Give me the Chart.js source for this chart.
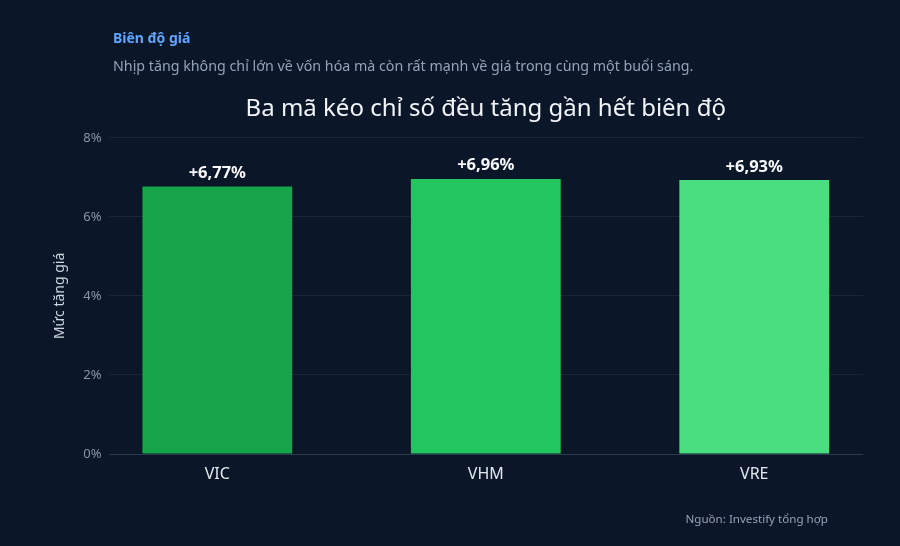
<!DOCTYPE html>
<html lang="vi">
<head>
<meta charset="utf-8">
<script src="https://cdn.jsdelivr.net/npm/chart.js@4.4.1/dist/chart.umd.min.js"></script>
<style>
  html, body { margin: 0; padding: 0; background: #0b1628; }
  #wrap { position: relative; width: 900px; height: 546px; font-family: 'Noto Sans', sans-serif; }
  #chart { position: absolute; left: 0; top: 0; }
  .kicker { position: absolute; left: 113px; top: 28px; font-size: 14px; font-weight: 700; color: #60a5fa; }
  .lead { position: absolute; left: 113px; top: 56px; font-size: 14.25px; color: #94a3b8; }
  .source { position: absolute; right: 72px; top: 511px; font-size: 11.6px; color: #94a3b8; }
</style>
</head>
<body>
<div id="wrap">
  <canvas id="chart" width="900" height="546"></canvas>
  <div class="kicker">Biên độ giá</div>
  <div class="lead">Nhịp tăng không chỉ lớn về vốn hóa mà còn rất mạnh về giá trong cùng một buổi sáng.</div>
  <div class="source">Nguồn: Investify tổng hợp</div>
</div>
<script>
const tickers = ['VIC', 'VHM', 'VRE'];
const priceChange = [6.77, 6.96, 6.93];
const barColors = ['#16a34a', '#22c55e', '#4ade80'];
const yTicks = [0, 2, 4, 6, 8];

const fmtPct = v => '+' + v.toFixed(2).replace('.', ',') + '%';

// nhãn giá trị trên đầu cột
const valueLabels = {
  id: 'valueLabels',
  afterDatasetsDraw(chart) {
    const { ctx } = chart;
    const meta = chart.getDatasetMeta(0);
    ctx.save();
    ctx.font = '700 16.5px "Noto Sans"';
    ctx.fillStyle = '#f8fafc';
    ctx.textAlign = 'center';
    ctx.textBaseline = 'bottom';
    meta.data.forEach((bar, i) => {
      ctx.fillText(fmtPct(priceChange[i]), bar.x, bar.y - 5);
    });
    ctx.restore();
  }
};

Chart.defaults.font.family = "'Noto Sans', sans-serif";

const ctx = document.getElementById('chart').getContext('2d');
new Chart(ctx, {
  type: 'bar',
  data: {
    datasets: [{
      data: priceChange.map((v, i) => ({ x: i, y: v })),
      backgroundColor: barColors,
      borderWidth: 0,
      categoryPercentage: 1,
      barPercentage: 0.558
    }]
  },
  options: {
    responsive: false,
    animation: false,
    layout: { padding: { left: 40, right: 37, top: 83, bottom: 52 } },
    plugins: {
      legend: { display: false },
      tooltip: { enabled: false },
      title: {
        display: true,
        text: 'Ba mã kéo chỉ số đều tăng gần hết biên độ',
        color: '#f1f5f9',
        font: { size: 24, weight: 'normal' },
        fullSize: false,
        padding: { top: 12, bottom: 14 }
      }
    },
    scales: {
      x: {
        type: 'linear',
        offset: false,
        min: -0.405,
        max: tickers.length - 1 + 0.405,
        grid: { display: false },
        border: { display: false },
        ticks: {
          stepSize: 1,
          includeBounds: false,
          color: '#e2e8f0',
          font: { size: 16 },
          padding: 3,
          callback: v => tickers[v] ?? ''
        },
        afterFit: scale => { scale.height = 40; }
      },
      y: {
        min: yTicks[0],
        max: yTicks[yTicks.length - 1],
        afterBuildTicks: scale => { scale.ticks = yTicks.map(v => ({ value: v })); },
        grid: {
          color: c => c.tick.value === 0 ? '#2b3a4f' : '#1a2638',
          lineWidth: 1,
          drawTicks: false
        },
        border: { display: false },
        ticks: {
          color: '#8a94a6',
          font: { size: 13 },
          padding: 7,
          callback: v => v + '%'
        },
        title: {
          display: true,
          text: 'Mức tăng giá',
          color: '#cbd5e1',
          font: { size: 14 },
          padding: { top: 12, bottom: 0 }
        },
        afterFit: scale => { scale.width = 68.6; }
      }
    }
  },
  plugins: [valueLabels]
});
</script>
</body>
</html>
